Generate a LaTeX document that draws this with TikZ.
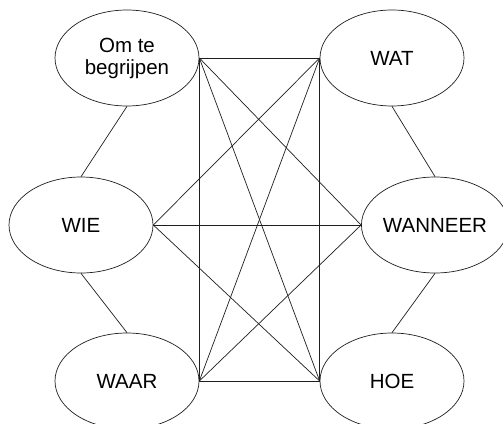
\documentclass[tikz,border=0pt]{standalone}
\usepackage{fontspec}
\setmainfont{Liberation Sans}
\usetikzlibrary{shapes.geometric}
\definecolor{ln}{RGB}{30,30,30}

\begin{document}
\begin{tikzpicture}[x=1pt, y=-1pt,
    font=\fontsize{20.5}{22}\selectfont,
    vraag/.style={ellipse, draw=ln, line width=0.7pt, inner sep=0pt,
        minimum width=144pt, minimum height=96pt, align=center},
    band/.style={ln, line width=0.7pt}]

\useasboundingbox (0,0) rectangle (503,423);

% ════════════════════════════════════════════════
%  LEFT COLUMN
% ════════════════════════════════════════════════
\node[vraag] (om)   at (127,58)  {Om te\\begrijpen};
\node[vraag] (wie)  at (81,225)  {WIE};
\node[vraag] (waar) at (127,381) {WAAR};

% ════════════════════════════════════════════════
%  RIGHT COLUMN
% ════════════════════════════════════════════════
\node[vraag] (wat)     at (392,58)  {WAT};
\node[vraag] (wanneer) at (435,225) {WANNEER};
\node[vraag] (hoe)     at (392,381) {HOE};

% side links
\draw[band] (om.south) -- (wie.north);
\draw[band] (wie.south) -- (waar.north);
\draw[band] (wat.south) -- (wanneer.north);
\draw[band] (wanneer.south) -- (hoe.north);

% verticals
\draw[band] (om.east) -- (waar.east);
\draw[band] (wat.west) -- (hoe.west);

% every left node to every right node
\foreach \l in {om,wie,waar}{
    \foreach \r in {wat,wanneer,hoe}{
        \draw[band] (\l.east) -- (\r.west);
    }
}

\end{tikzpicture}
\end{document}
